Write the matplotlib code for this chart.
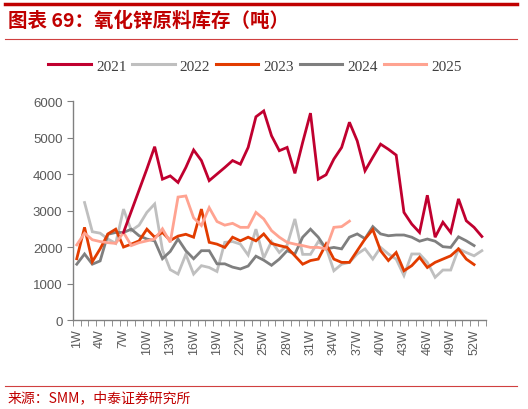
import matplotlib
matplotlib.use("Agg")
import matplotlib.pyplot as plt
from matplotlib.lines import Line2D
import numpy as np

plt.rcParams['font.family'] = ['Liberation Sans', 'Noto Sans CJK SC', 'DejaVu Sans']

# weeks 1..53
weeks = np.arange(1, 54)
tick_weeks = list(range(1, 53, 3))
tick_labels = [f"{w}W" for w in tick_weeks]

years = ["2021", "2022", "2023", "2024", "2025"]
colors = ["#C0002F", "#BFBFBF", "#E23C00", "#7F7F7F", "#FFA391"]

# inventory (tons); None = no data
y2021 = [None] * 6 + [2400, 2980, 3560, 4140, 4750, 3860, 3950, 3770, 4180, 4660,
                      4370, 3820, 4000, 4180, 4370, 4270, 4730, 5570, 5730, 5050,
                      4640, 4730, 4020, 4870, 5670, 3860, 3980, 4410, 4730, 5420,
                      4910, 4090, 4460, 4820, 4680, 4520, 2950, 2630, 2400, 3420,
                      2270, 2680, 2400, 3320, 2720, 2540, 2290]
y2022 = [None] + [3220, 2420, 2380, 2220, 2100, 3040, 2450, 2600, 2950, 3180,
                  1920, 1380, 1260, 1800, 1260, 1490, 1440, 1330, 2130, 2150,
                  2080, 1780, 2490, 1700, 2150, 1850, 2050, 2770, 1800, 1800,
                  2150, 1990, 1350, 1530, 1580, 1810, 1950, 1670, 1990, 1810,
                  1670, 1220, 1810, 1810, 1580, 1170, 1370, 1370, 1950, 1850,
                  1760, 1900]
y2023 = [1680, 2540, 1600, 1950, 2360, 2490, 2000, 2080, 2170, 2490,
         2270, 2400, 2180, 2300, 2350, 2270, 3040, 2130, 2080, 1990,
         2270, 2170, 2270, 2170, 2360, 2100, 2040, 1990, 1760, 1530,
         1630, 1670, 2080, 1670, 1580, 1580, 1900, 2220, 2480, 1900,
         1630, 1850, 1350, 1490, 1720, 1440, 1580, 1670, 1760, 1950,
         1670, 1520] + [None]
y2024 = [1530, 1810, 1530, 1620, 2350, 2400, 2400, 2490, 2310, 2220,
         2170, 1680, 1880, 2220, 1900, 1680, 1900, 1900, 1540, 1540,
         1450, 1400, 1480, 1750, 1640, 1500, 1670, 1900, 1810, 2270,
         2490, 2270, 1950, 1990, 1950, 2270, 2360, 2230, 2560, 2360,
         2310, 2330, 2330, 2270, 2160, 2220, 2160, 2010, 1990, 2280,
         2170, 2040] + [None]
y2025 = [2060, 2380, 2200, 2150, 2120, 2100, 2400, 2040, 2120, 2170,
         2220, 2500, 2130, 3370, 3400, 2800, 2590, 3080, 2700, 2600,
         2650, 2540, 2540, 2950, 2770, 2450, 2270, 2130, 2080, 2040,
         1990, 1990, 1950, 2540, 2560, 2710] + [None] * 17

series = [y2021, y2022, y2023, y2024, y2025]

fig = plt.figure(figsize=(5.28, 4.10), dpi=100)
ax = fig.add_axes([0.138, 0.217, 0.782, 0.534])

# draw older years on top like the original (2021 on top)
for name, vals, c, z in zip(years, series, colors, [6, 2, 4, 3, 5]):
    v = np.array([np.nan if x is None else x for x in vals], dtype=float)
    ax.plot(weeks, v, color=c, lw=2.0, zorder=z, solid_joinstyle='miter')

ax.set_xlim(0.5, 53.5)
ax.set_ylim(0, 6000)
ax.set_yticks(range(0, 6001, 1000))
ax.set_xticks(tick_weeks)
ax.set_xticklabels(tick_labels, rotation=90)
ax.set_xticks(np.arange(0.5, 54, 1), minor=True)
ax.tick_params(axis='x', which='major', length=0, pad=6, labelsize=9, labelcolor='#595959')
ax.tick_params(axis='x', which='minor', length=4, color='#808080', direction='out')
ax.tick_params(axis='y', length=4, color='#808080', labelsize=9.5, labelcolor='#595959')
for s in ['top', 'right']:
    ax.spines[s].set_visible(False)
for s in ['left', 'bottom']:
    ax.spines[s].set_color('#808080')
    ax.spines[s].set_linewidth(1.0)

handles = [Line2D([], [], color=c, lw=2.2) for c in colors]
fig.legend(handles, years, loc='center', bbox_to_anchor=(0.483, 0.837), ncol=5,
           frameon=False, handlelength=2.8, handletextpad=0.35, columnspacing=0.35,
           prop={'family': 'Liberation Serif', 'size': 11}, labelcolor='#404040')

# header and footer
red = '#C00000'
fig.add_artist(Line2D([0.01, 0.98], [0.988, 0.988], color=red, lw=2.5))
fig.add_artist(Line2D([0.01, 0.98], [0.902, 0.902], color='#D04040', lw=0.8))
fig.text(0.015, 0.948, "图表 69：氧化锌原料库存（吨）", color=red, fontsize=14,
         fontweight='bold', style='italic', va='center',
         family=['Noto Sans CJK SC', 'DejaVu Sans'])
fig.add_artist(Line2D([0.01, 0.98], [0.057, 0.057], color='#D04040', lw=0.8))
fig.text(0.015, 0.028, "来源：SMM，中泰证券研究所", color=red, fontsize=10,
         va='center', family=['Noto Sans CJK SC', 'DejaVu Sans'])

fig.savefig("out.png", dpi=100)
